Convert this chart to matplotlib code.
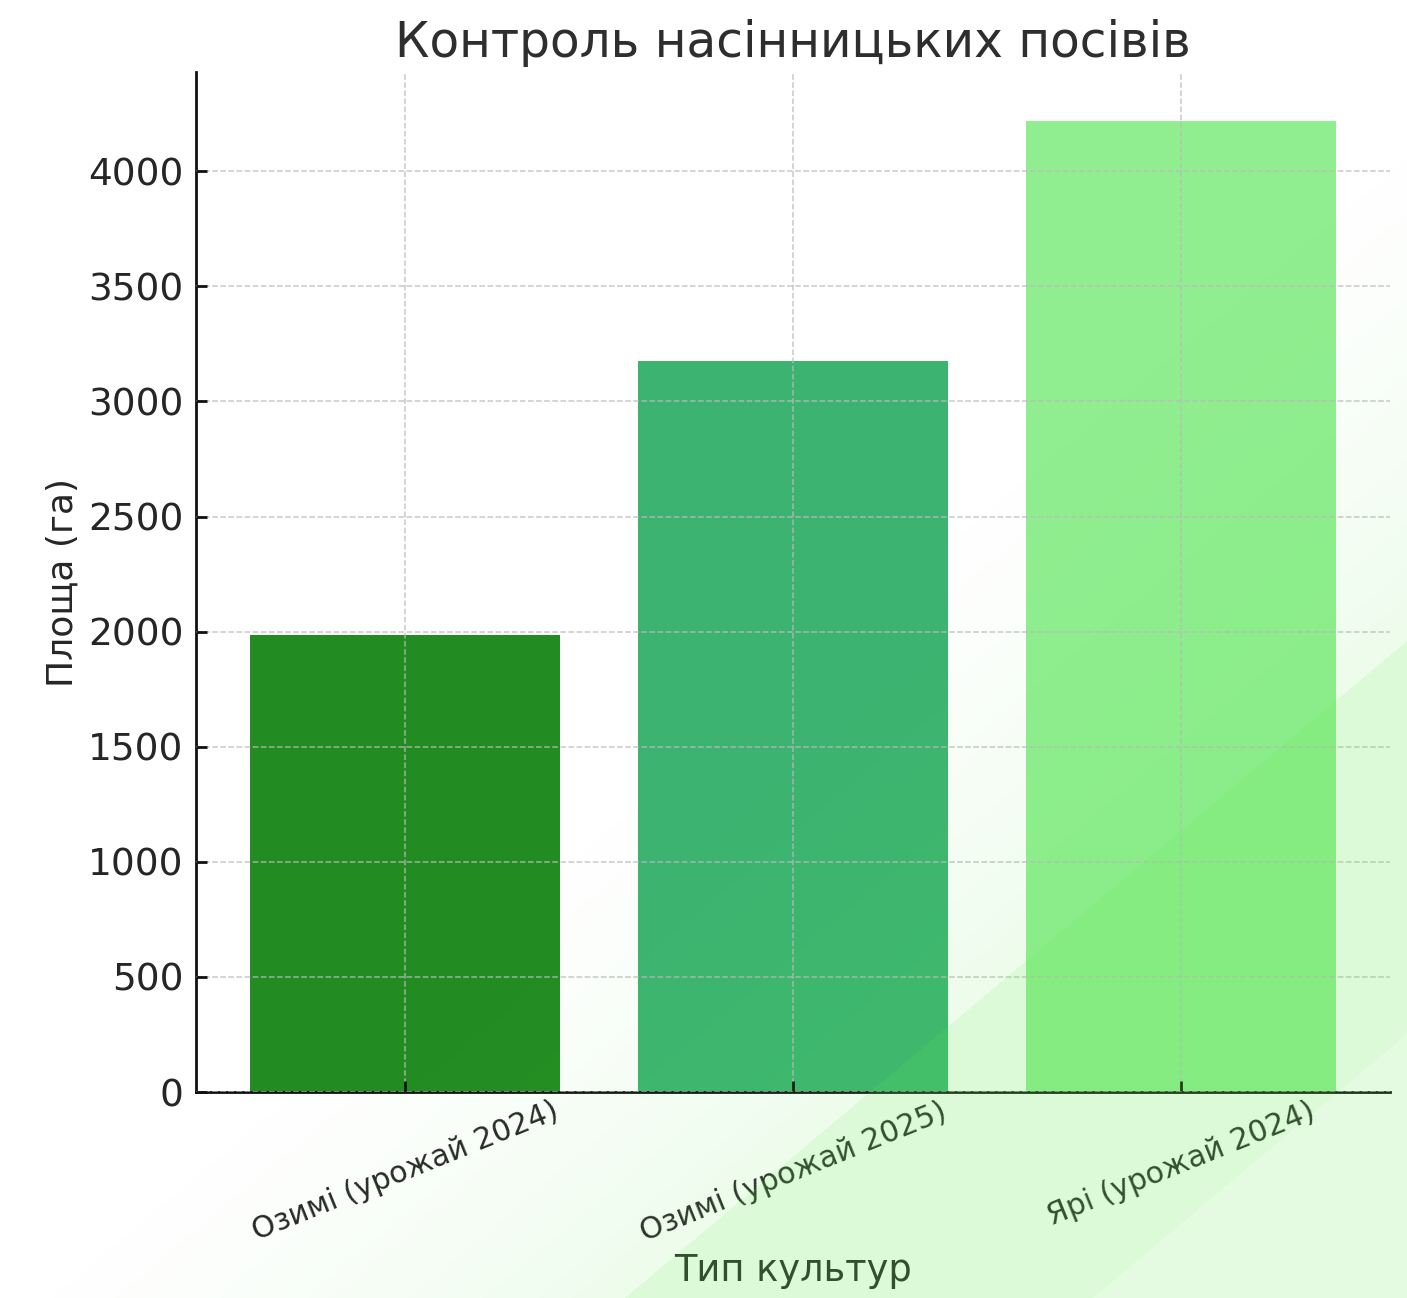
import numpy as np
import matplotlib.pyplot as plt

# Data
categories = ["Озимі (урожай 2024)", "Озимі (урожай 2025)", "Ярі (урожай 2024)"]
areas = [1985, 3175, 4220]
colors = ["forestgreen", "mediumseagreen", "lightgreen"]

plt.rcParams['font.family'] = ['DejaVu Sans']
text_color = "#262626"

fig = plt.figure(figsize=(14.07, 12.98), dpi=100)
ax = fig.add_axes([0.1393, 0.1587, 0.8487, 0.7858])
ax.set_facecolor("none")

x = np.arange(len(categories))
ax.bar(x, areas, color=colors, width=0.8, zorder=1)

ax.set_title("Контроль насінницьких посівів", fontsize=35, color="#2e2e2e", pad=11)
ax.set_xlabel("Тип культур", fontsize=26.5, color=text_color, labelpad=4)
ax.set_ylabel("Площа (га)", fontsize=26, color=text_color, labelpad=6)

ax.set_xticks(x)
ax.set_xticklabels(categories, rotation=22, ha="center", fontsize=21.5, color=text_color)
ax.tick_params(axis="y", labelsize=27, labelcolor=text_color, pad=9)
ax.tick_params(direction="in", length=8, width=2, color="#111111")

ax.grid(True, linestyle="--", color="#bbbbbb", alpha=0.8, linewidth=1.1, zorder=2)
ax.set_axisbelow(False)

for s in ["top", "right"]:
    ax.spines[s].set_visible(False)
for s in ["left", "bottom"]:
    ax.spines[s].set_linewidth(2)
    ax.spines[s].set_color("#111111")

# light green diagonal wash over the lower right of the image
H, W = 1298, 1407
yy, xx = np.mgrid[0:H, 0:W]
s = yy + 0.84 * xx
alpha = 0.11 * np.clip((s - 1300) / 522, 0, 1) ** 1.3
alpha = np.where(s >= 1822, 0.22, alpha)
alpha = np.where(s >= 2215, 0.17, alpha)
wash = np.zeros((H, W, 4))
wash[..., 0] = 96 / 255
wash[..., 1] = 232 / 255
wash[..., 2] = 78 / 255
wash[..., 3] = alpha

ov = fig.add_axes([0, 0, 1, 1], zorder=10)
ov.imshow(wash, extent=[0, 1, 0, 1], aspect="auto", interpolation="bilinear")
ov.set_axis_off()

fig.savefig("out.png", dpi=100)
plt.close(fig)
